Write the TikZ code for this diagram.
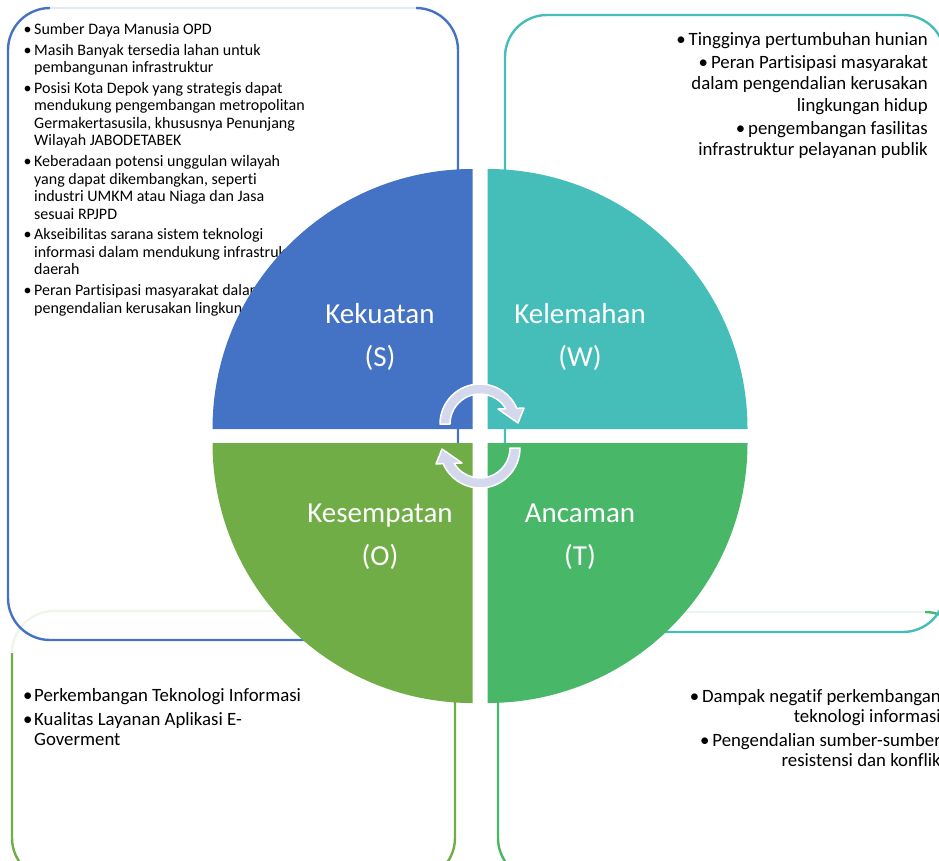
\documentclass[tikz,border=0pt]{standalone}
\usepackage{fontspec}
\setmainfont{Carlito}[Ligatures={NoCommon}]
\definecolor{cS}{HTML}{4472C4}
\definecolor{cW}{HTML}{45BDB8}
\definecolor{cO}{HTML}{70AD47}
\definecolor{cT}{HTML}{48B868}
\definecolor{cArr}{HTML}{D3D8EC}
\newcommand\fstrut{\rule{0pt}{17pt}}
\newcommand\bul{\makebox[13pt][c]{\textbullet}}
\newcommand\ind{\hspace*{13pt}}
\begin{document}
\begin{tikzpicture}[x=1pt,y=-1pt,
  boxline/.style={line width=2.4pt},
  lbl/.style={anchor=base,inner sep=0pt,text=white,font=\fontsize{29}{31}\selectfont},
  listL/.style={anchor=north west,align=left,inner sep=0pt},
  listR/.style={anchor=north east,align=right,inner sep=0pt},
  cyc/.style={fill=cArr,draw=white,line width=1.5pt,line join=round}]
\useasboundingbox (0,0) rectangle (939,861);
\clip (0,0) rectangle (939,861);

% ---- outline boxes
% O box
\draw[boxline,cO] (12,653) -- (12,838) arc[start angle=180,end angle=90,radius=42]
  -- (413,880) arc[start angle=90,end angle=0,radius=42]
  -- (455,653) arc[start angle=360,end angle=270,radius=42];
\draw[boxline,cO!12] (413,611) -- (54,611) arc[start angle=270,end angle=180,radius=42];
% T box
\draw[boxline,cT] (925,612) arc[start angle=270,end angle=360,radius=42]
  -- (967,838) arc[start angle=0,end angle=90,radius=42]
  -- (540,880) arc[start angle=90,end angle=180,radius=42]
  -- (498,654) arc[start angle=180,end angle=270,radius=42];
\draw[boxline,cT!12] (540,612) -- (925,612);
% W box
\draw[boxline,cW,rounded corners=42] (505,15) rectangle (945,632);
% S box
\draw[boxline,cS] (416,8) arc[start angle=270,end angle=360,radius=42]
  -- (458,598) arc[start angle=0,end angle=90,radius=42]
  -- (50,640) arc[start angle=90,end angle=180,radius=42]
  -- (8,50) arc[start angle=180,end angle=270,radius=42];
\draw[boxline,cS!15] (50,8) -- (416,8);

% ---- texts
\node[listL,font=\fontsize{16}{17.5}\selectfont] (sList) at (21,17) {\fstrut\bul Sumber Daya Manusia OPD\\[3.3pt]
\bul Masih Banyak tersedia lahan untuk\\
\ind pembangunan infrastruktur\\[3.3pt]
\bul Posisi Kota Depok yang strategis dapat\\
\ind mendukung pengembangan metropolitan\\
\ind Germakertasusila, khususnya Penunjang\\
\ind Wilayah JABODETABEK\\[3.3pt]
\bul Keberadaan potensi unggulan wilayah\\
\ind yang dapat dikembangkan, seperti\\
\ind industri UMKM atau Niaga dan Jasa\\
\ind sesuai RPJPD\\[3.3pt]
\bul Akseibilitas sarana sistem teknologi\\
\ind informasi dalam mendukung infrastruktur\\
\ind daerah\\[3.3pt]
\bul Peran Partisipasi masyarakat dalam\\
\ind pengendalian kerusakan lingkungan hidup};

\node[listR,font=\fontsize{18.8}{21.5}\selectfont] (wList) at (928,28) {\fstrut\textbullet\hspace{3pt}Tingginya pertumbuhan hunian\\[1.5pt]
\textbullet\hspace{3pt}Peran Partisipasi masyarakat\\
dalam pengendalian kerusakan\\
lingkungan hidup\\[1.5pt]
\textbullet\hspace{3pt}pengembangan fasilitas\\
infrastruktur pelayanan publik};

\node[listL,font=\fontsize{18.8}{20}\selectfont] (oList) at (21,684) {\fstrut\bul Perkembangan Teknologi Informasi\\[4pt]
\bul Kualitas Layanan Aplikasi E-\\
\ind Goverment};

\node[listR,font=\fontsize{18.8}{20}\selectfont] (tList) at (941,685) {\fstrut\textbullet\hspace{3pt}Dampak negatif perkembangan\\
teknologi informasi\\[4pt]
\textbullet\hspace{3pt}Pengendalian sumber-sumber\\
resistensi dan konflik};

% ---- quadrants
\fill[cS] (472.5,429) -- (212.5,429) arc[start angle=180,end angle=270,radius=260] -- cycle;
\fill[cW] (487.5,429) -- (487.5,169) arc[start angle=270,end angle=360,radius=260] -- cycle;
\fill[cO] (472.5,443) -- (212.5,443) arc[start angle=180,end angle=90,radius=260] -- cycle;
\fill[cT] (487.5,443) -- (747.5,443) arc[start angle=0,end angle=90,radius=260] -- cycle;

% ---- labels
\node[lbl] (sName) at (380,323) {Kekuatan};
\node[lbl] (sCode) at (380,366) {(S)};
\node[lbl] (wName) at (580,323) {Kelemahan};
\node[lbl] (wCode) at (580,366) {(W)};
\node[lbl] (oName) at (380,522) {Kesempatan};
\node[lbl] (oCode) at (380,565) {(O)};
\node[lbl] (tName) at (580,522) {Ancaman};
\node[lbl] (tCode) at (580,565) {(T)};

% ---- cycle arrows
\begin{scope}[shift={(480,424)}]
\path[cyc] (180:40) arc[start angle=180,end angle=337,radius=40] -- (44,-16) -- (38,-1) -- (18,-15)
  -- (329.3:30) arc[start angle=329.3,end angle=180,radius=30] -- cycle;
\end{scope}
\begin{scope}[shift={(480,448)},rotate=180]
\path[cyc] (180:40) arc[start angle=180,end angle=337,radius=40] -- (44,-16) -- (38,-1) -- (18,-15)
  -- (329.3:30) arc[start angle=329.3,end angle=180,radius=30] -- cycle;
\end{scope}
\end{tikzpicture}
\end{document}
